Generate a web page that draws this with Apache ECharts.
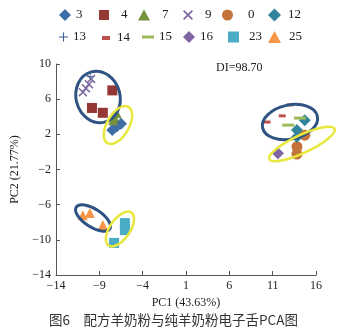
<!DOCTYPE html>
<html><head><meta charset="utf-8">
<script src="https://cdn.jsdelivr.net/npm/echarts@6/dist/echarts.min.js"></script>
<style>html,body{margin:0;padding:0;background:#fff}#c{width:347px;height:333px}</style>
</head><body><div id="c"></div>
<script>
// ---- data ----
const seriesNames = ['3','4','7','9','0','12','13','14','15','16','23','25'];
const s3  = [[-7.5,2.5],[-6.5,3.2],[-7.0,2.9]];
const s4  = [[-7.5,7.0],[-9.85,5.0],[-8.6,4.45]];
const s7  = [[-7.3,4.0],[-7.0,4.4],[-7.4,3.6]];
const s9  = [[-10.9,6.8],[-10.55,7.25],[-10.2,7.7],[-9.95,8.3]];
const s0  = [[14.7,1.9],[13.8,0.6],[13.8,-0.25]];
const s12 = [[14.7,3.6],[13.8,2.5],[13.8,1.7]];
const s13 = [[-10.05,8.6]];
const s14 = [[13.0,5.35],[12.1,4.1],[10.35,3.4]];
const s15 = [[14.15,3.85],[12.8,3.05]];
const s16 = [[11.6,-0.15]];
const s23 = [[-6.05,-8.1],[-6.05,-8.9],[-7.3,-10.35]];
const s25 = [[-10.9,-7.2],[-10.1,-6.95],[-8.6,-8.3]];
const xTicks = [-14,-9,-4,1,6,11,16];
const yTicks = [-14,-10,-6,-2,2,6,10];
const xTitle = 'PC1 (43.63%)';
const yTitle = 'PC2 (21.77%)';
const diText = 'DI=98.70';
const caption = '图6　配方羊奶粉与纯羊奶粉电子舌PCA图';
// ellipse annotations: centre in data units
const ellipseCentres = [[-9.15,6.25],[-6.85,3.06],[13.0,3.4],[14.38,0.9],[-9.73,-7.52],[-6.62,-8.77]];

// ---- styles ----
const XP = 'path://M0,1.2L1.2,0L5,3.8L8.8,0L10,1.2L6.2,5L10,8.8L8.8,10L5,6.2L1.2,10L0,8.8L3.8,5Z';
const PP = 'path://M4.4,0H5.6V4.4H10V5.6H5.6V10H4.4V5.6H0V4.4H4.4Z';
const sty = {
 '3': {d:s3, sym:'diamond', size:12, color:'#3f6ea6'},
 '4': {d:s4, sym:'rect', size:10, color:'#953735'},
 '7': {d:s7, sym:'triangle', size:10, color:'#76923c'},
 '9': {d:s9, sym:XP, size:9, color:'#7d68a0'},
 '0': {d:s0, sym:'circle', size:11, color:'#c4733a'},
 '12': {d:s12, sym:'diamond', size:12, color:'#31849b'},
 '13': {d:s13, sym:PP, size:7, color:'#3a5f8f'},
 '14': {d:s14, sym:'rect', size:[7,3], color:'#c0504d'},
 '15': {d:s15, sym:'rect', size:[12,3], color:'#9bbb59'},
 '16': {d:s16, sym:'diamond', size:12, color:'#8064a2'},
 '23': {d:s23, sym:'rect', size:10, color:'#4bacc6'},
 '25': {d:s25, sym:'triangle', size:10, color:'#f79646'}
};
// legend layout: [iconLeft, rowCentreY, iconW, iconH, textPadLeft]
const legPos = {
 '3':[59,15,12,12,0], '4':[99,15,10,10,7], '7':[138,15,12,11,7], '9':[183,15,10,10,7],
 '0':[222,15,11,11,10], '12':[268,15,13,13,2],
 '13':[59,37,9,9,0], '14':[102,38,8,4,2], '15':[142,37,12,3,0], '16':[183,37,12,12,0],
 '23':[228,37,11,11,5], '25':[268,37,13,12,3]
};
const ellStyle = [
 {rx:22,ry:26,rot:15,c:'#2f5382'},{rx:21,ry:11,rot:60,c:'#e8e83c'},
 {rx:28,ry:17,rot:12,c:'#2f5382'},{rx:36,ry:9,rot:25,c:'#e8e83c'},
 {rx:20,ry:9,rot:-33,c:'#2f5382'},{rx:20,ry:10,rot:55,c:'#e8e83c'}
];
const FONT = '"Liberation Serif","Times New Roman",serif';
const fmt = v => String(v).replace('-', '\u2212');

const chart = echarts.init(document.getElementById('c'), null, {renderer:'canvas'});
const series = seriesNames.map(n => ({
  name:n, type:'scatter', data:sty[n].d, symbol:sty[n].sym, symbolSize:sty[n].size,
  itemStyle:{color:sty[n].color, opacity:1}, emphasis:{disabled:true}, z:2
}));
const legends = seriesNames.map(n => {
  const p = legPos[n];
  return {data:[{name:n, icon:sty[n].sym}], left:p[0], top:p[1]-8, itemWidth:p[2], itemHeight:p[3],
    padding:0, selectedMode:false,
    textStyle:{fontFamily:FONT, fontSize:13, color:'#222', lineHeight:16, padding:[0,0,0,p[4]]}};
});
chart.setOption({
  animation:false,
  backgroundColor:'#fff',
  legend:legends,
  grid:{left:56, right:31, top:64, bottom:58, containLabel:false},
  xAxis:{type:'value', min:-14, max:16, splitLine:{show:false},
    axisLine:{onZero:false, lineStyle:{color:'#555', width:1}},
    axisTick:{inside:true, length:4, customValues:xTicks, lineStyle:{color:'#555'}},
    axisLabel:{customValues:xTicks, formatter:fmt, fontFamily:FONT, fontSize:12, color:'#222', margin:5},
    name:xTitle, nameLocation:'middle', nameGap:19, nameTextStyle:{fontFamily:FONT, fontSize:12, color:'#222'}},
  yAxis:{type:'value', min:-14, max:10, splitLine:{show:false},
    axisLine:{show:true, onZero:false, lineStyle:{color:'#555', width:1}},
    axisTick:{show:true, inside:true, length:4, customValues:yTicks, lineStyle:{color:'#555'}},
    axisLabel:{customValues:yTicks, formatter:fmt, fontFamily:FONT, fontSize:12, color:'#222', margin:5},
    name:yTitle, nameLocation:'middle', nameGap:24, nameTextStyle:{fontFamily:FONT, fontSize:12, color:'#222'}},
  title:{text:caption, left:'center', bottom:1, textStyle:{fontFamily:'"Noto Sans CJK SC",sans-serif', fontSize:13.5, fontWeight:'normal', color:'#333'}},
  series:series
});
const g = [{type:'text', left:216, top:62, style:{text:diText, font:'12px '+FONT, fill:'#222'}, z:50}];
ellipseCentres.forEach((c,i) => {
  const p = chart.convertToPixel({gridIndex:0}, c);
  const s = ellStyle[i];
  g.push({type:'ellipse', x:p[0], y:p[1], rotation:s.rot*Math.PI/180,
    shape:{cx:0, cy:0, rx:s.rx, ry:s.ry},
    style:{fill:null, stroke:s.c, lineWidth:s.c==='#2f5382'?3:2.5}, z:100, silent:true});
});
chart.setOption({graphic:g});
</script></body></html>
